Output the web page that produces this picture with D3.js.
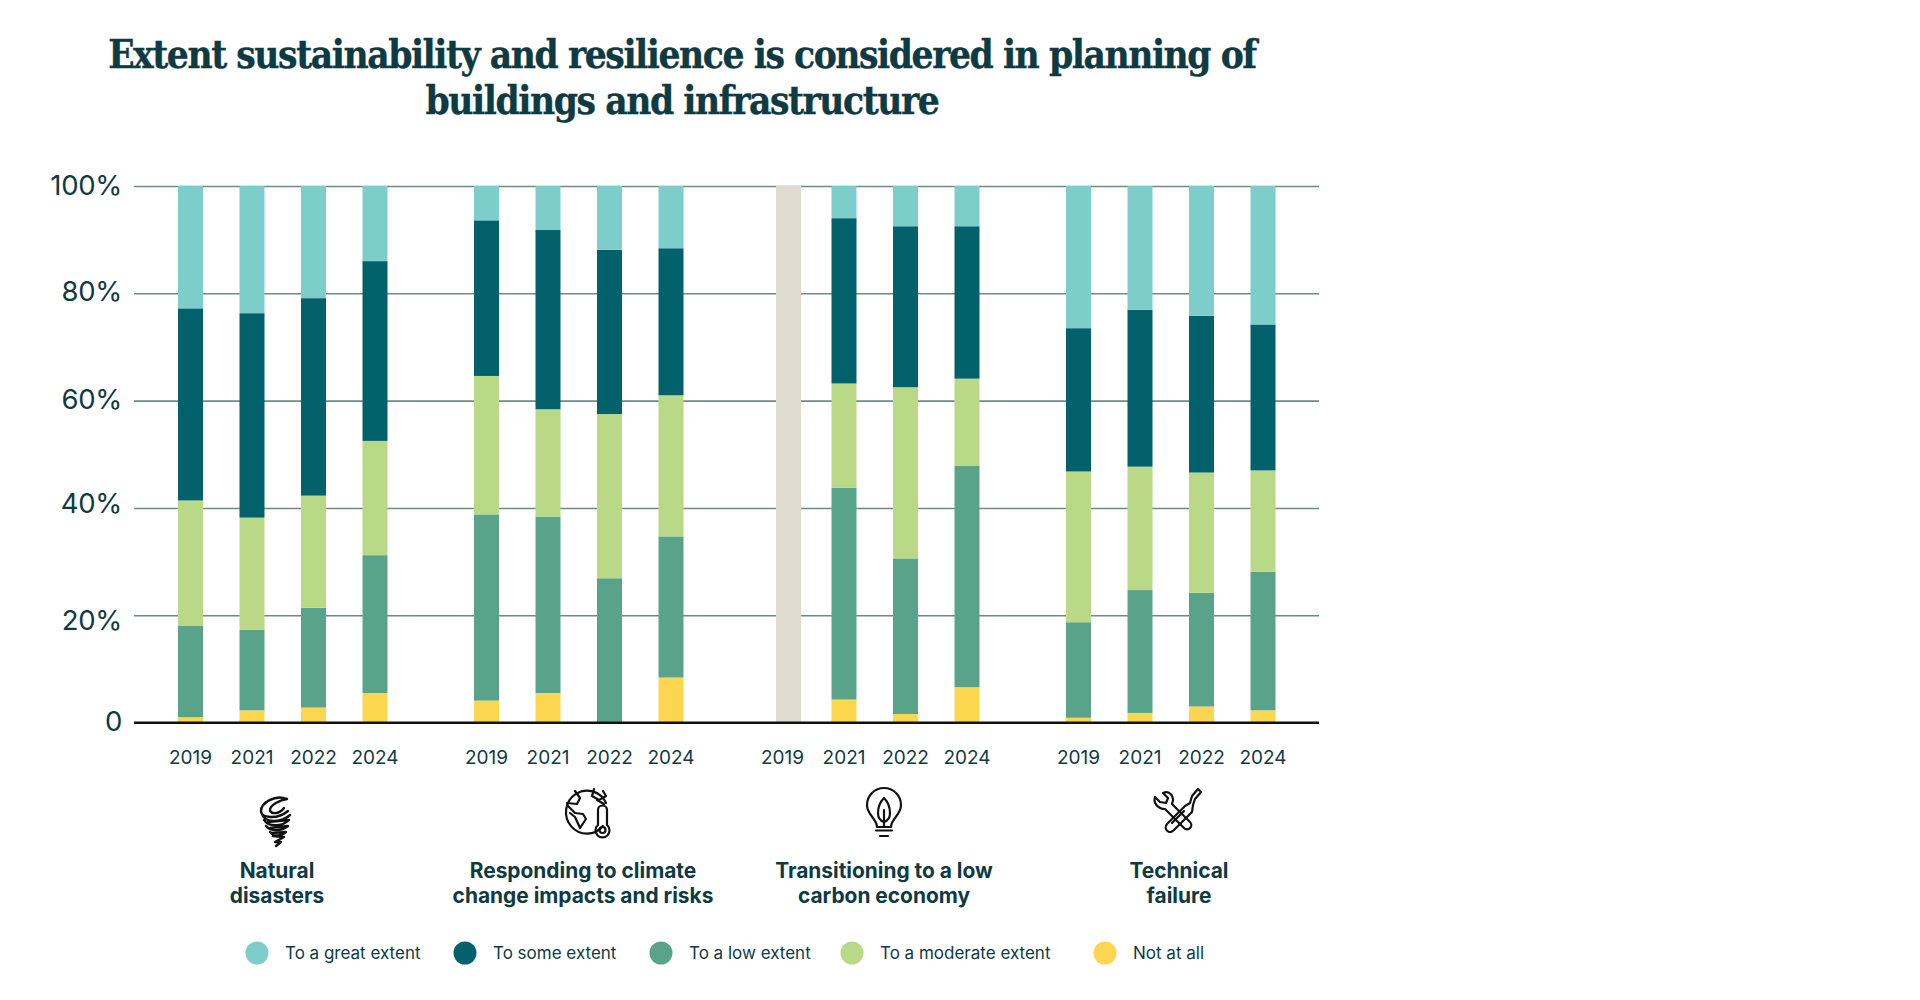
<!DOCTYPE html>
<html><head><meta charset="utf-8">
<script src="https://cdn.jsdelivr.net/npm/d3@7"></script>
<style>html,body{margin:0;background:#fff}svg{display:block}</style></head>
<body><svg id="c" width="1920" height="1000"></svg>
<script>
const titleLines = ["Extent sustainability and resilience is considered in planning of","buildings and infrastructure"];
const categories = ["Natural disasters","Responding to climate change impacts and risks","Transitioning to a low carbon economy","Technical failure"];
const categoryLines = [["Natural","disasters"],["Responding to climate","change impacts and risks"],["Transitioning to a low","carbon economy"],["Technical","failure"]];
const years = ["2019","2021","2022","2024"];
const yTicks = [0,20,40,60,80,100];
const seriesNames = ["Not at all","To a low extent","To a moderate extent","To some extent","To a great extent","No data"];
const legendOrder = ["To a great extent","To some extent","To a low extent","To a moderate extent","Not at all"];
const notAtAll = [1.0,2.3,2.8,5.5, 4.1,5.5,0,8.4, 0,4.3,1.6,6.6, 0.9,1.8,3.0,2.3];
const lowExtent = [17.0,15.0,18.6,25.7, 34.7,32.9,26.9,26.3, 0,39.5,29.0,41.3, 17.8,22.9,21.2,25.8];
const moderateExtent = [23.4,20.9,20.9,21.3, 25.8,20.0,30.6,26.3, 0,19.4,31.9,16.2, 28.1,23.0,22.4,18.9];
const someExtent = [35.8,38.1,36.8,33.5, 29.0,33.4,30.6,27.4, 0,30.8,30.0,28.4, 26.7,29.2,29.2,27.2];
const greatExtent = [22.8,23.7,20.9,14.0, 6.4,8.2,11.9,11.6, 0,6.0,7.5,7.5, 26.5,23.1,24.2,25.8];
const noData = [0,0,0,0, 0,0,0,0, 100,0,0,0, 0,0,0,0];
const seriesValues = [notAtAll,lowExtent,moderateExtent,someExtent,greatExtent,noData];
const seriesColors = ["#fdd64f","#5aa38b","#b9d986","#02616b","#7dcdcb","#dfdccf"];

const INK="#0f3a42", SANS="Inter, Roboto, sans-serif";
const svg=d3.select("#c");
const rows=[];
categories.forEach((c,ci)=>years.forEach((y,yi)=>{
  const r={category:c,year:y};
  seriesNames.forEach((s,si)=>r[s]=seriesValues[si][ci*4+yi]);
  rows.push(r);
}));
const stacked=d3.stack().keys(seriesNames)(rows);
const yScale=d3.scaleLinear().domain([0,100]).range([722.6,186]);
const groupX=d3.scaleBand().domain(categories).range([178,178+296*4]);
const yearX=d3.scaleBand().domain(years).range([0,209.5]).paddingInner(36.5/61.5).paddingOuter(0);
const color=d3.scaleOrdinal(seriesNames,seriesColors);

// title
svg.append("g").selectAll("text").data(titleLines).join("text")
  .attr("x",682).attr("y",(d,i)=>68+i*46).attr("text-anchor","middle")
  .attr("fill",INK).attr("font-family","'DejaVu Serif Condensed','DejaVu Serif',serif")
  .attr("font-weight",700).attr("font-size",38.5).attr("letter-spacing",-1.45)
  .attr("stroke",INK).attr("stroke-width",0.35).text(d=>d);

// gridlines + y labels
const yAxis=svg.append("g").attr("transform","translate(134,0)")
  .call(d3.axisLeft(yScale).tickValues(yTicks).tickSize(-1185).tickPadding(12).tickFormat(d=>d===0?"0":d+"%"));
yAxis.select(".domain").remove();
yAxis.selectAll(".tick line").attr("stroke",d=>d===0?"#111":"#6f8a8a").attr("stroke-width",d=>d===0?2:1.6);
yAxis.selectAll(".tick text").attr("font-family",SANS).attr("font-size",27.5).attr("fill",INK).attr("font-weight",400)
  .attr("letter-spacing",-0.3)
  .attr("dy",d=>({0:"0.28em",20:"0.5em",40:"0.17em",60:"0.29em",80:"0.27em",100:"0.32em"}[d]));

// bars
const barLeft=d=>groupX(d.data.category)+yearX(d.data.year)+(d.data["No data"]>0?6:0);
svg.append("g").selectAll("g").data(stacked).join("g").attr("fill",s=>color(s.key))
  .selectAll("rect").data(s=>s.filter(d=>d[1]>d[0])).join("rect")
  .attr("x",barLeft).attr("width",yearX.bandwidth())
  .attr("y",d=>yScale(d[1])).attr("height",d=>yScale(d[0])-yScale(d[1]));
// baseline over bars
svg.append("line").attr("x1",134).attr("x2",1319).attr("y1",yScale(0)).attr("y2",yScale(0)).attr("stroke","#111").attr("stroke-width",2);

// year axes
categories.forEach(c=>{
  const g=svg.append("g").attr("transform",`translate(${groupX(c)},729)`)
    .call(d3.axisBottom(yearX).tickSize(0).tickPadding(22));
  g.select(".domain").remove();
  g.selectAll("text").attr("font-family",SANS).attr("font-size",19).attr("fill",INK);
});

// category labels
const catCenter=[277,583,884,1179];
categoryLines.forEach((lines,i)=>{
  svg.append("g").selectAll("text").data(lines).join("text")
    .attr("x",catCenter[i]).attr("y",(d,j)=>877.5+j*25.5).attr("text-anchor","middle")
    .attr("font-family",SANS).attr("font-weight",700).attr("font-size",20.9).attr("fill",INK).text(d=>d);
});

// icons
const icon=svg.append("g").attr("fill","none").attr("stroke","#111").attr("stroke-width",2.2).attr("stroke-linecap","round").attr("stroke-linejoin","round");
// tornado
icon.append("path").attr("stroke-width",2.4).attr("d","M287 799 C275 794 261 803 261 811 C261 818 277 820 288 811 M287 799 C280 800 270 805 270 810 C270 814 279 815 284 808 M262 814 C264 822 280 824 290 815 M264 820 C268 827 282 827 289 820 L268 822 M266 826 C271 832 282 831 288 826 L270 828 M270 832 C274 837 282 836 286 832 L272 833 M273 836 L284 837 L275 842 L281 842 L276 846");
// globe + thermometer
icon.append("path").attr("d","M603 826 A21 21.5 0 1 1 606 803");
icon.append("path").attr("d","M575 791 L580 798 L577 804 L567 803 M567 805 L575 813 L583 814 L586 819 L580 828 L575 817 L570 813 M594 789 L592 796 L599 800 L606 796 L603 791 M597 800 L604 804");
icon.append("path").attr("d","M598 825 L598 810 A4.5 4.5 0 0 1 607 810 L607 825 A7 7 0 1 1 598 825 Z");
icon.append("circle").attr("cx",602.5).attr("cy",830).attr("r",3);
// bulb
icon.append("path").attr("d","M877 827 C877 819 867 815 867 805 A17 17 0 0 1 901 805 C901 815 891 819 891 827 Z");
icon.append("path").attr("d","M884 798 C879 803 878 809 878 813 C878 818 881 821 884 822 C887 821 890 818 890 813 C890 809 889 803 884 798 Z M884 810 L884 827 M876 830.5 L892 830.5 M880 836 L888 836");
// tools
icon.append("path").attr("d","M1163 793 L1168 798 L1166 803 L1160 802 L1155 797 C1153 803 1158 809 1165 809 L1184 828 C1188 832 1194 826 1190 822 L1172 804 C1175 797 1170 790 1163 793 Z");
icon.append("path").attr("d","M1195 799 L1201 792 L1198 789 L1192 796 L1190 803 L1185 806 L1167 824 C1163 829 1169 835 1174 830 L1192 812 L1193 805 Z M1184 811 L1172 823");

// legend
const legendX=[257,465,661,852,1105];
const lg=svg.append("g").selectAll("g").data(legendOrder).join("g").attr("transform",(d,i)=>`translate(${legendX[i]},953)`);
lg.append("circle").attr("r",11.5).attr("fill",d=>color(d));
lg.append("text").attr("x",28).attr("y",5.5).attr("font-family",SANS).attr("font-size",17).attr("fill",INK).text(d=>d);
</script></body></html>
